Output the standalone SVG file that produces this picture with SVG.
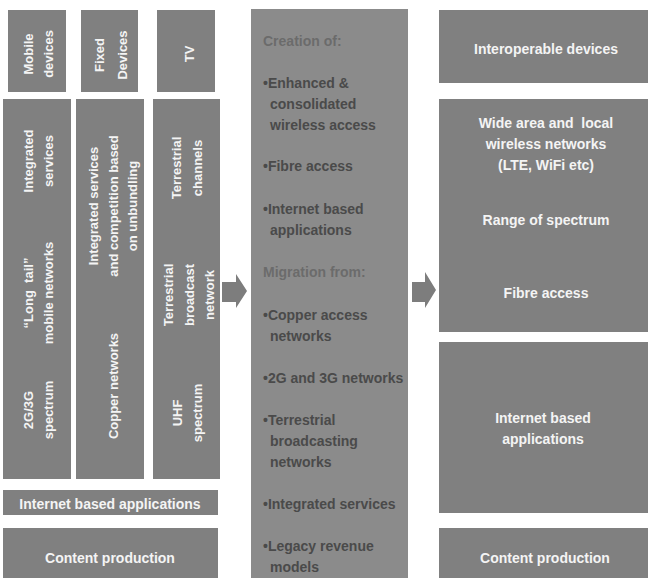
<svg xmlns="http://www.w3.org/2000/svg" width="648" height="580" viewBox="0 0 648 580">
<style>
.box{fill:#808080;}
.mid{fill:#8b8b8b;}
.w{fill:#f4f4f4;font-family:"Liberation Sans",Arial,sans-serif;font-weight:bold;font-size:14px;}
.r{fill:#f4f4f4;font-family:"Liberation Sans",Arial,sans-serif;font-weight:bold;font-size:13px;text-anchor:middle;}
.c{text-anchor:middle;}
.d{fill:#4a4a4a;font-family:"Liberation Sans",Arial,sans-serif;font-weight:bold;font-size:14px;}
.h{fill:#6b6b6b;font-family:"Liberation Sans",Arial,sans-serif;font-weight:bold;font-size:14px;}
.arrow{fill:#7d7d7d;}
</style>
<rect width="648" height="580" fill="#ffffff"/>

<g id="mobile-devices">
<rect class="box" x="8" y="10" width="58" height="82"/>
<g transform="translate(0,54) rotate(-90)"><text class="r" x="0" y="33">Mobile</text><text class="r" x="0" y="53">devices</text></g>
</g>
<g id="fixed-devices">
<rect class="box" x="81" y="10" width="57" height="82"/>
<g transform="translate(0,55) rotate(-90)"><text class="r" x="0" y="104">Fixed</text><text class="r" x="0" y="127">Devices</text></g>
</g>
<g id="tv">
<rect class="box" x="157" y="10" width="58" height="82"/>
<g transform="translate(0,54) rotate(-90)"><text class="r" x="0" y="194">TV</text></g>
</g>

<g id="mobile-stack">
<rect class="box" x="3" y="99" width="68" height="380"/>
<g transform="translate(0,161) rotate(-90)"><text class="r" x="0" y="33">Integrated</text><text class="r" x="0" y="53">services</text></g>
<g transform="translate(0,293) rotate(-90)"><text class="r" x="0" y="33" xml:space="preserve">“Long  tail”</text><text class="r" x="0" y="53">mobile networks</text></g>
<g transform="translate(0,410) rotate(-90)"><text class="r" x="0" y="33">2G/3G</text><text class="r" x="0" y="53">spectrum</text></g>
</g>
<g id="fixed-stack">
<rect class="box" x="76" y="99" width="68" height="380"/>
<g transform="translate(0,206) rotate(-90)"><text class="r" x="0" y="98">Integrated services</text><text class="r" x="0" y="118">and competition based</text><text class="r" x="0" y="137">on unbundling</text></g>
<g transform="translate(0,386) rotate(-90)"><text class="r" x="0" y="118">Copper networks</text></g>
</g>
<g id="tv-stack">
<rect class="box" x="153" y="99" width="67" height="380"/>
<g transform="translate(0,168) rotate(-90)"><text class="r" x="0" y="181">Terrestrial</text><text class="r" x="0" y="202">channels</text></g>
<g transform="translate(0,295) rotate(-90)"><text class="r" x="0" y="173">Terrestrial</text><text class="r" x="0" y="194">broadcast</text><text class="r" x="0" y="214">network</text></g>
<g transform="translate(0,413) rotate(-90)"><text class="r" x="0" y="182">UHF</text><text class="r" x="0" y="202">spectrum</text></g>
</g>

<g id="left-internet">
<rect class="box" x="3" y="490" width="215" height="25"/>
<text class="w c" x="110" y="509">Internet based applications</text>
</g>
<g id="left-content">
<rect class="box" x="3" y="528" width="215" height="50"/>
<text class="w c" x="110" y="563">Content production</text>
</g>

<g id="transition">
<rect class="mid" x="251" y="9" width="157" height="569"/>
<text class="h" x="263" y="46">Creation of:</text>
<text class="d" x="263" y="88">•Enhanced &amp;<tspan x="270" y="109">consolidated</tspan><tspan x="270" y="130">wireless access</tspan></text>
<text class="d" x="263" y="171">•Fibre access</text>
<text class="d" x="263" y="214">•Internet based<tspan x="270" y="235">applications</tspan></text>
<text class="h" x="263" y="277">Migration from:</text>
<text class="d" x="263" y="320">•Copper access<tspan x="270" y="341">networks</tspan></text>
<text class="d" x="263" y="383">•2G and 3G networks</text>
<text class="d" x="263" y="425">•Terrestrial<tspan x="270" y="446">broadcasting</tspan><tspan x="270" y="467">networks</tspan></text>
<text class="d" x="263" y="509">•Integrated services</text>
<text class="d" x="263" y="551">•Legacy revenue<tspan x="270" y="572">models</tspan></text>
</g>

<g id="right-devices">
<rect class="box" x="439" y="10" width="209" height="73"/>
<text class="w c" x="546" y="54">Interoperable devices</text>
</g>
<g id="right-networks">
<rect class="box" x="439" y="99" width="209" height="233"/>
<text class="w c" x="546" y="128" xml:space="preserve">Wide area and  local</text>
<text class="w c" x="546" y="149">wireless networks</text>
<text class="w c" x="546" y="170">(LTE, WiFi etc)</text>
<text class="w c" x="546" y="225">Range of spectrum</text>
<text class="w c" x="546" y="298">Fibre access</text>
</g>
<g id="right-internet">
<rect class="box" x="439" y="342" width="209" height="171"/>
<text class="w c" x="543" y="423">Internet based</text>
<text class="w c" x="543" y="444">applications</text>
</g>
<g id="right-content">
<rect class="box" x="439" y="528" width="209" height="50"/>
<text class="w c" x="545" y="563">Content production</text>
</g>

<g id="connectors">
<polygon class="arrow" points="222,282 236,282 236,274 247,291 236,308 236,302 222,302"/>
<polygon class="arrow" points="412,282 425,282 425,272 436,290 425,308 425,302 412,302"/>
</g>
</svg>
